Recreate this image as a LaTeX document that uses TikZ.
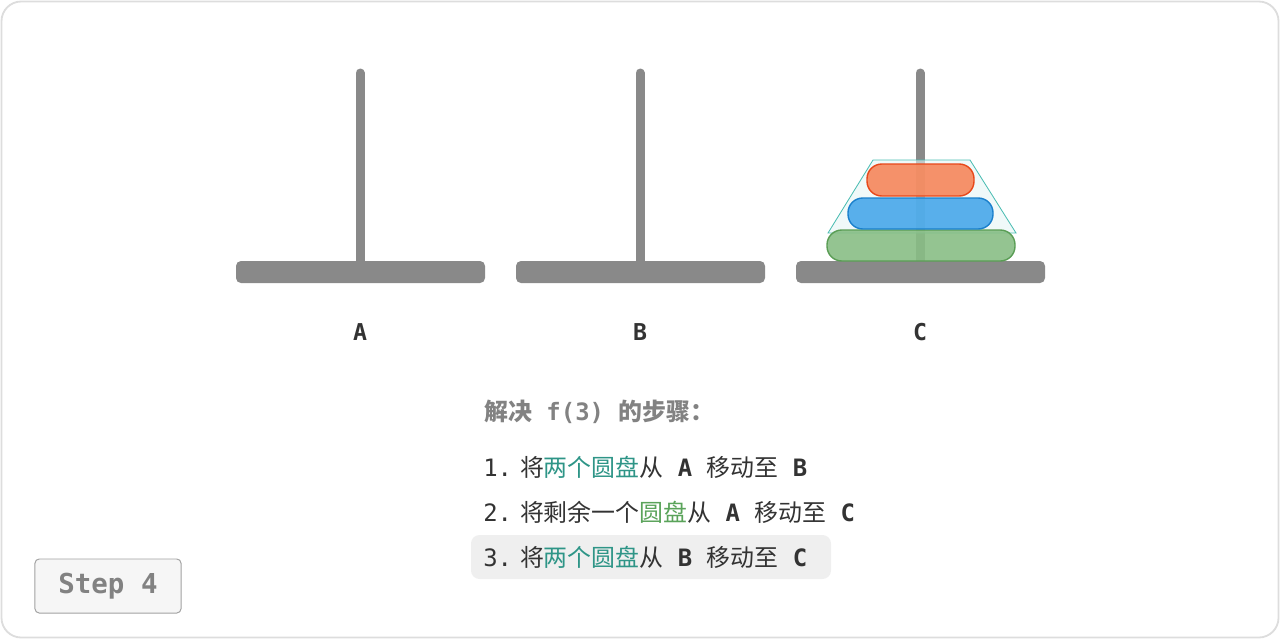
\documentclass[tikz,border=0pt]{standalone}
\usepackage{fontspec}
\setmonofont{DejaVu Sans Mono}
\newfontfamily\cjk{Noto Sans CJK SC}
\usetikzlibrary{positioning}

\definecolor{rodgray}{HTML}{898989}
\definecolor{framegray}{HTML}{DDDDDD}
\definecolor{textdark}{HTML}{333333}
\definecolor{textgray}{HTML}{828282}
\definecolor{tealtext}{HTML}{2E9587}
\definecolor{greentext}{HTML}{5AA35A}
\definecolor{hlgray}{HTML}{EFEFEF}
\definecolor{greenfill}{HTML}{88BE85}
\definecolor{greenline}{HTML}{5A9D55}
\definecolor{bluefill}{HTML}{48A8EA}
\definecolor{blueline}{HTML}{1A80CC}
\definecolor{orangefill}{HTML}{F6875B}
\definecolor{orangeline}{HTML}{E8481A}
\definecolor{trapfill}{HTML}{E6F5F5}
\definecolor{trapline}{HTML}{4CBDB3}

\newcommand{\mono}[1]{{\ttfamily\bfseries\ #1\ }}
\newcommand{\num}[1]{{\ttfamily #1}\hspace{0.2cm}}
\newcommand{\teal}[1]{{\color{tealtext}#1}}

\begin{document}
\begin{tikzpicture}[x=0.025cm, y=-0.025cm,
    peglabel/.style={font=\fontsize{16.5}{18}\selectfont\ttfamily\bfseries, text=textdark},
    stepline/.style={anchor=west, inner sep=0pt, font=\fontsize{17}{20}\selectfont\cjk, text=textdark},
    disc/.style={line width=1pt, fill opacity=0.9, rounded corners=10.5pt}]
    \useasboundingbox (0,0) rectangle (1280,639);
    \draw[framegray, line width=1.3pt, rounded corners=14pt] (1.5,1.5) rectangle (1278.5,637.5);

    % pegs
    \foreach \x/\n in {360/A,640/B,920/C} {
        \draw[rodgray, line width=6.4pt, line cap=round] (\x,73) -- (\x,262);
        \fill[rodgray, rounded corners=3.5pt] (\x-124,261) rectangle (\x+125,283);
        \node (lbl\n) [peglabel] at (\x,332) {\n};
    }

    % discs on C
    \filldraw[trapline, fill=trapfill, fill opacity=0.6, line width=0.6pt] (873,160) -- (970,160) -- (1016,233) -- (828,233) -- cycle;
    \draw[disc, draw=greenline, fill=greenfill] (827,230) rectangle (1015,261);
    \draw[disc, draw=blueline, fill=bluefill] (848,198) rectangle (993,229);
    \draw[disc, draw=orangeline, fill=orangefill] (867,164) rectangle (974,196);

    % steps
    \node (title) [stepline, text=textgray] at (484,412) {\bfseries 解决\mono{f(3)}的步骤：};
    \fill[hlgray, rounded corners=6pt] (471,535) rectangle (831,579);
    \node (s1) [stepline] at (483,467) {\num{1.}将\teal{两个圆盘}从\mono{A}移动至\mono{B}};
    \node (s2) [stepline] at (483,512) {\num{2.}将剩余一个{\color{greentext}圆盘}从\mono{A}移动至\mono{C}};
    \node (s3) [stepline] at (483,557) {\num{3.}将\teal{两个圆盘}从\mono{B}移动至\mono{C}};

    \node (stepbox) [draw=rodgray!80, fill=gray!7, rounded corners=3pt, line width=0.7pt,
        minimum width=3.65cm, minimum height=1.35cm,
        font=\fontsize{19.5}{22}\selectfont\ttfamily\bfseries, text=textgray] at (108,586) {Step 4};
\end{tikzpicture}
\end{document}
